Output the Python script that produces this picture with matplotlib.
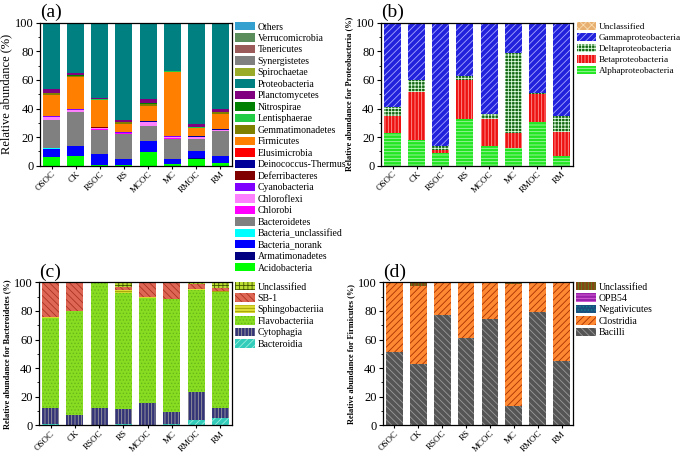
import numpy as np
import matplotlib.pyplot as plt
from matplotlib.ticker import MultipleLocator

plt.rcParams.update({
    'font.family': 'Liberation Serif',
    'hatch.linewidth': 0.6,
    'axes.linewidth': 0.9,
})

samples = ['OSOC', 'CK', 'RSOC', 'RS', 'MCOC', 'MC', 'RMOC', 'RM']

# (a) phylum level, listed bottom -> top of the stack
acidobacteria = [6.2, 6.5, 0.5, 0.5, 9.6, 1.0, 4.9, 1.8]
armatimonadetes = [0.2, 0.2, 0.2, 0.2, 0.2, 0.2, 0.2, 0.2]
bacteria_norank = [5.2, 6.8, 7.5, 3.7, 7.4, 3.5, 5.1, 5.0]
bacteria_unclassified = [0.6, 0.2, 0.1, 0.1, 0.2, 0.1, 0.1, 0.1]
bacteroidetes = [19.8, 24.0, 17.0, 18.0, 10.4, 14.2, 8.2, 16.9]
chlorobi = [0.3, 0.2, 0.2, 0.1, 0.3, 0.2, 0.2, 0.2]
chloroflexi = [1.5, 1.2, 1.0, 0.6, 2.3, 1.2, 1.3, 0.8]
cyanobacteria = [0.7, 0.3, 0.2, 0.1, 0.3, 0.2, 0.2, 0.2]
deferribacteres = [0.1, 0.1, 0.1, 0.1, 0.1, 0.1, 0.1, 0.1]
deinococcus = [0.4, 0.2, 0.3, 0.3, 0.3, 0.2, 0.3, 0.2]
elusimicrobia = [0.1, 0.1, 0.1, 0.1, 0.1, 0.1, 0.1, 0.1]
firmicutes = [14.0, 22.0, 18.5, 5.5, 10.5, 44.5, 5.5, 10.5]
gemmatimonadetes = [1.5, 1.0, 0.5, 1.0, 1.5, 0.3, 0.5, 1.5]
lentisphaerae = [0.1, 0.1, 0.1, 0.1, 0.1, 0.1, 0.1, 0.1]
nitrospirae = [0.2, 0.2, 0.1, 0.1, 0.3, 0.1, 0.1, 0.2]
planctomycetes = [2.5, 1.5, 1.0, 1.5, 3.0, 0.5, 2.0, 1.5]
proteobacteria = [45.8, 34.6, 51.8, 67.2, 52.6, 32.7, 70.3, 59.8]
spirochaetae = [0.1, 0.1, 0.1, 0.1, 0.1, 0.1, 0.1, 0.1]
synergistetes = [0.1, 0.1, 0.1, 0.1, 0.1, 0.1, 0.1, 0.1]
tenericutes = [0.1, 0.1, 0.1, 0.1, 0.1, 0.1, 0.1, 0.1]
verrucomicrobia = [0.2, 0.2, 0.2, 0.2, 0.2, 0.2, 0.2, 0.2]
others = [0.3, 0.3, 0.3, 0.3, 0.3, 0.3, 0.3, 0.3]

# (b) Proteobacteria classes
alphaproteo = [22.9, 18.2, 8.6, 32.5, 13.8, 12.1, 30.4, 6.5]
betaproteo = [11.7, 33.2, 2.4, 27.5, 18.7, 10.8, 19.8, 16.9]
deltaproteo = [6.3, 8.2, 2.6, 2.4, 3.7, 56.1, 0.8, 11.6]
gammaproteo = [58.7, 40.0, 86.0, 37.2, 63.4, 20.6, 48.6, 64.6]
proteo_uncl = [0.4, 0.4, 0.4, 0.4, 0.4, 0.4, 0.4, 0.4]

# (c) Bacteroidetes classes
bacteroidia = [1.0, 0.3, 0.3, 0.6, 0.3, 0.7, 4.0, 4.9]
cytophagia = [11.1, 6.7, 11.8, 10.8, 15.6, 8.6, 19.5, 7.5]
flavobacteriia = [63.2, 73.0, 87.4, 81.4, 73.4, 78.8, 71.4, 80.9]
sphingobacteriia = [0.1, 0.1, 0.1, 1.6, 0.1, 0.1, 0.6, 0.8]
sb1 = [24.5, 19.8, 0.1, 2.0, 10.5, 11.7, 3.0, 2.1]
bacteroid_uncl = [0.1, 0.1, 0.3, 3.6, 0.1, 0.1, 1.5, 3.8]

# (d) Firmicutes classes
bacilli = [51.0, 42.9, 76.9, 60.8, 74.6, 13.5, 79.0, 45.0]
clostridia = [49.0, 54.6, 23.1, 39.2, 25.4, 85.5, 21.0, 55.0]
negativicutes = [0, 0, 0, 0, 0, 0, 0, 0]
opb54 = [0, 0, 0, 0, 0, 0, 0, 0]
firm_uncl = [0, 2.5, 0, 0, 0, 1.0, 0, 0]

x = np.arange(len(samples))
W, H = 685, 455
fig = plt.figure(figsize=(6.85, 4.55), dpi=100)


def px_axes(l, t, r, b):
    return fig.add_axes([l / W, 1 - b / H, (r - l) / W, (b - t) / H])


def stack(ax, layers):
    bottom = np.zeros(len(samples))
    handles = []
    for name, vals, fill, hcol, hatch in layers:
        vals = np.array(vals, dtype=float)
        b = ax.bar(x, vals, 0.7, bottom=bottom, color=fill, edgecolor=hcol,
                   hatch=hatch, linewidth=0, label=name)
        bottom += vals
        handles.append(b)
    return handles


def style(ax, ylabel, lsize, bold, tsize):
    ax.set_xlim(-0.48, 7.48)
    ax.set_ylim(0, 100)
    ax.yaxis.set_major_locator(MultipleLocator(20))
    ax.yaxis.set_minor_locator(MultipleLocator(10))
    ax.tick_params(axis='both', which='major', direction='out', length=3,
                   width=0.8, labelsize=tsize, pad=1.5, right=False, top=False)
    ax.tick_params(axis='x', which='major', pad=0.5, length=2.5)
    ax.tick_params(axis='y', which='minor', direction='out', length=1.5, width=0.6)
    ax.set_xticks(x)
    ax.set_xticklabels(samples, rotation=45, ha='right', rotation_mode='anchor',
                       fontsize=6.5)
    ax.set_ylabel(ylabel, fontsize=lsize, fontweight='bold' if bold else 'normal',
                  labelpad=2)


def legend(handles, l, t, fs):
    fig.legend(handles[::-1], [h.get_label() for h in handles[::-1]],
               loc='upper left', bbox_to_anchor=(l / W, 1 - t / H),
               frameon=False, fontsize=fs, borderpad=0, borderaxespad=0,
               handlelength=2.1, handleheight=0.95, handletextpad=0.25,
               labelspacing=0.2)


# (a)
ax_a = px_axes(40, 22.7, 232, 165.7)
layers_a = [
    ('Acidobacteria', acidobacteria, '#00ff00', '#00ff00', None),
    ('Armatimonadetes', armatimonadetes, '#000080', '#000080', None),
    ('Bacteria_norank', bacteria_norank, '#0000ff', '#0000ff', None),
    ('Bacteria_unclassified', bacteria_unclassified, '#00ffff', '#00ffff', None),
    ('Bacteroidetes', bacteroidetes, '#808080', '#808080', None),
    ('Chlorobi', chlorobi, '#ff00ff', '#ff00ff', None),
    ('Chloroflexi', chloroflexi, '#ff80ff', '#ff80ff', None),
    ('Cyanobacteria', cyanobacteria, '#8000ff', '#8000ff', None),
    ('Deferribacteres', deferribacteres, '#800000', '#800000', None),
    ('Deinococcus-Thermus', deinococcus, '#000099', '#000099', None),
    ('Elusimicrobia', elusimicrobia, '#ff0000', '#ff0000', None),
    ('Firmicutes', firmicutes, '#ff8000', '#ff8000', None),
    ('Gemmatimonadetes', gemmatimonadetes, '#808000', '#808000', None),
    ('Lentisphaerae', lentisphaerae, '#22cc44', '#22cc44', None),
    ('Nitrospirae', nitrospirae, '#008000', '#008000', None),
    ('Planctomycetes', planctomycetes, '#800080', '#800080', None),
    ('Proteobacteria', proteobacteria, '#008080', '#008080', None),
    ('Spirochaetae', spirochaetae, '#9aab2a', '#9aab2a', None),
    ('Synergistetes', synergistetes, '#808080', '#808080', None),
    ('Tenericutes', tenericutes, '#9c5b5b', '#9c5b5b', None),
    ('Verrucomicrobia', verrucomicrobia, '#5b8c5b', '#5b8c5b', None),
    ('Others', others, '#33a0d0', '#33a0d0', None),
]
h_a = stack(ax_a, layers_a)
style(ax_a, 'Relative abundance (%)', 9, False, 9)
legend(h_a, 235, 22, 7)
ax_a.text(0.0, 1.01, '(a)', transform=ax_a.transAxes, fontsize=14, va='bottom')

# (b)
ax_b = px_axes(381, 22.7, 573, 165.7)
layers_b = [
    ('Alphaproteobacteria', alphaproteo, '#22e622', '#a8f5a8', '-----'),
    ('Betaproteobacteria', betaproteo, '#ee1111', '#ff9c9c', '|||||'),
    ('Deltaproteobacteria', deltaproteo, '#116611', '#e0ffe0', '+++++'),
    ('Gammaproteobacteria', gammaproteo, '#2222dd', '#a8a8ff', '/////'),
    ('Unclassified', proteo_uncl, '#e8b070', '#f8dcb0', 'xxxx'),
]
h_b = stack(ax_b, layers_b)
style(ax_b, 'Relative abundance for Proteobacteria (%)', 6, True, 9)
legend(h_b, 577, 22, 6.6)
ax_b.text(0.0, 1.01, '(b)', transform=ax_b.transAxes, fontsize=14, va='bottom')

# (c)
ax_c = px_axes(39, 282.3, 232, 425.3)
layers_c = [
    ('Bacteroidia', bacteroidia, '#33ccbb', '#99eedd', '/////'),
    ('Cytophagia', cytophagia, '#333377', '#a0a0a0', '|||||'),
    ('Flavobacteriia', flavobacteriia, '#88dd22', '#66b818', '.....'),
    ('Sphingobacteriia', sphingobacteriia, '#dddd33', '#999900', '-----'),
    ('SB-1', sb1, '#dd6655', '#aa3322', '\\\\\\\\\\'),
    ('Unclassified', bacteroid_uncl, '#bbdd33', '#445500', '++++'),
]
h_c = stack(ax_c, layers_c)
style(ax_c, 'Relative abundance for Bacteroidetes (%)', 6, True, 9)
legend(h_c, 235, 282, 7)
ax_c.text(0.0, 1.01, '(c)', transform=ax_c.transAxes, fontsize=14, va='bottom')

# (d)
ax_d = px_axes(383, 282.3, 573, 425.3)
layers_d = [
    ('Bacilli', bacilli, '#555555', '#9a9a9a', '\\\\\\\\\\'),
    ('Clostridia', clostridia, '#ff8833', '#a83300', '/////'),
    ('Negativicutes', negativicutes, '#1a4f80', '#118888', '.....'),
    ('OPB54', opb54, '#9922aa', '#dd66dd', '-----'),
    ('Unclassified', firm_uncl, '#884411', '#558822', '|||||'),
]
h_d = stack(ax_d, layers_d)
style(ax_d, 'Relative abundance for Firmicutes (%)', 6, True, 9)
legend(h_d, 576, 282, 7)
ax_d.text(0.0, 1.01, '(d)', transform=ax_d.transAxes, fontsize=14, va='bottom')

fig.savefig('out.png', dpi=100)
